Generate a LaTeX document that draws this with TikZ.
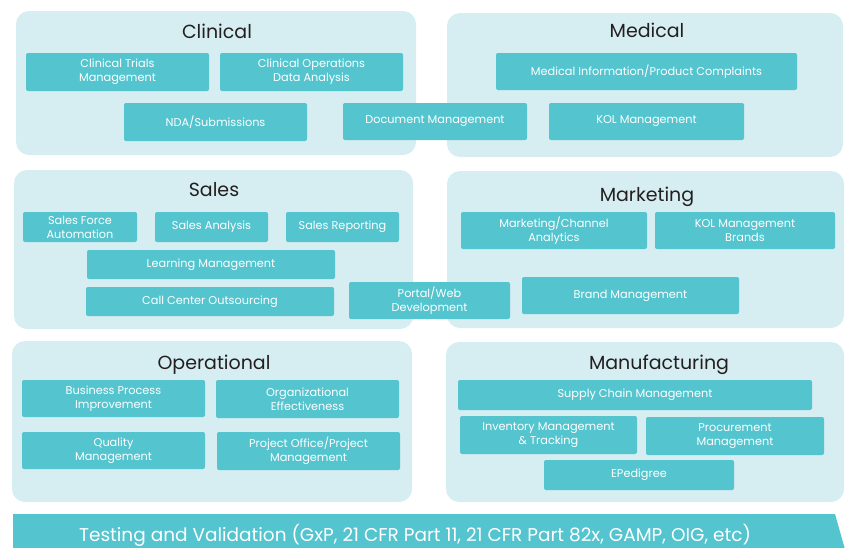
\documentclass[tikz,border=0pt]{standalone}
\usepackage{fontspec}
\setmainfont{Poppins}
\usetikzlibrary{positioning}
\definecolor{panelblue}{RGB}{214,238,241}
\definecolor{boxteal}{RGB}{84,196,206}
\definecolor{titlegray}{RGB}{35,31,32}
\tikzset{
	panel/.style={rectangle, fill=panelblue, rounded corners=13pt, inner sep=0pt},
	block/.style={rectangle, fill=boxteal, rounded corners=2pt, text=white, align=center, inner sep=0pt, font=\fontsize{11.3}{14}\selectfont},
	areatitle/.style={anchor=base, text=titlegray, font=\fontsize{19}{24}\selectfont}
}

\begin{document}
\begin{tikzpicture}[x=1pt, y=-1pt]
		\useasboundingbox (0,0) rectangle (845,547);
		\clip (0,0) rectangle (845,547);
		
		% --- Area Panels ---
		\node[panel, minimum width=400, minimum height=144] (clinical) at (216,83) {};
		\node[panel, minimum width=396, minimum height=144] (medical) at (645,85) {};
		\node[panel, minimum width=399, minimum height=159] (sales) at (213.5,249.5) {};
		\node[panel, minimum width=397, minimum height=157] (marketing) at (645.5,249.5) {};
		\node[panel, minimum width=400, minimum height=161] (operational) at (212,421.5) {};
		\node[panel, minimum width=398, minimum height=160] (manufacturing) at (645,422) {};
		
		% --- Panel Titles ---
		\node[areatitle] (clinical_title) at (217,38) {Clinical};
		\node[areatitle] (medical_title) at (647,37) {Medical};
		\node[areatitle] (sales_title) at (214,196) {Sales};
		\node[areatitle] (marketing_title) at (647,201) {Marketing};
		\node[areatitle] (operational_title) at (214,369) {Operational};
		\node[areatitle] (manufacturing_title) at (659,369) {Manufacturing};
		
		% --- Clinical and Medical ---
		\node[block, minimum width=183, minimum height=38] (trials) at (117.5,72) {Clinical Trials\\Management};
		\node[block, minimum width=183, minimum height=38] (clin_ops) at (311.5,72) {Clinical Operations\\Data Analysis};
		\node[block, minimum width=183, minimum height=38] (nda) at (215.5,122) {NDA/Submissions};
		\node[block, minimum width=184, minimum height=37] (doc_mgmt) at (435,121.5) {Document Management};
		\node[block, minimum width=301, minimum height=37] (med_info) at (646.5,71.5) {Medical Information/Product Complaints};
		\node[block, minimum width=195, minimum height=37] (kol_mgmt) at (646.5,121.5) {KOL Management};
		
		% --- Sales and Marketing ---
		\node[block, minimum width=114, minimum height=30] (sfa) at (80,227) {Sales Force\\Automation};
		\node[block, minimum width=113, minimum height=30] (sales_analysis) at (211.5,227) {Sales Analysis};
		\node[block, minimum width=113, minimum height=30] (sales_reporting) at (342.5,227) {Sales Reporting};
		\node[block, minimum width=248, minimum height=29] (learning) at (211,264.5) {Learning Management};
		\node[block, minimum width=248, minimum height=29] (call_center) at (210,301.5) {Call Center Outsourcing};
		\node[block, minimum width=161, minimum height=37] (portal) at (429.5,300.5) {Portal/Web\\Development};
		\node[block, minimum width=186, minimum height=37] (mkt_channel) at (554,230.5) {Marketing/Channel\\Analytics};
		\node[block, minimum width=180, minimum height=37] (kol_brands) at (745,230.5) {KOL Management\\Brands};
		\node[block, minimum width=217, minimum height=37] (brand_mgmt) at (630.5,295.5) {Brand Management};
		
		% --- Operational and Manufacturing ---
		\node[block, minimum width=183, minimum height=37] (bpi) at (113.5,398.5) {Business Process\\Improvement};
		\node[block, minimum width=183, minimum height=38] (org_eff) at (307.5,399) {Organizational\\Effectiveness};
		\node[block, minimum width=183, minimum height=37] (quality) at (113.5,450.5) {Quality\\Management};
		\node[block, minimum width=183, minimum height=38] (pmo) at (308.5,451) {Project Office/Project\\Management};
		\node[block, minimum width=354, minimum height=30] (supply) at (635,395) {Supply Chain Management};
		\node[block, minimum width=177, minimum height=38] (inventory) at (548.5,435) {Inventory Management\\\& Tracking};
		\node[block, minimum width=178, minimum height=38] (procurement) at (735,436) {Procurement\\Management};
		\node[block, minimum width=190, minimum height=30] (epedigree) at (639,475) {EPedigree};
		
		% --- Testing Banner ---
		\fill[boxteal] (13,514) -- (835,514) -- (848,560) -- (13,560) -- cycle;
		\node[anchor=base, text=white, font=\fontsize{18.5}{22}\selectfont] (testing) at (415,541) {Testing and Validation (GxP, 21 CFR Part 11, 21 CFR Part 82x, GAMP, OIG, etc)};
		
	\end{tikzpicture}
\end{document}
